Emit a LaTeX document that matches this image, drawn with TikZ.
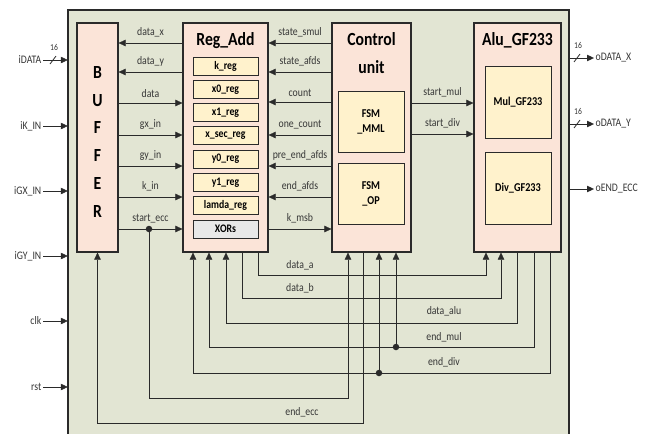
\documentclass[tikz,border=0pt]{standalone}
\usepackage{fontspec}
\setmainfont{Carlito}[FakeStretch=0.85]
\usetikzlibrary{arrows.meta,calc,positioning}
\definecolor{panel}{HTML}{E2E5D3}
\definecolor{blockfill}{HTML}{FBE4D8}
\definecolor{cellfill}{HTML}{FFF2CC}
\definecolor{xorfill}{HTML}{E8E8E8}
\definecolor{wire}{HTML}{2A2A2A}
\definecolor{muted}{HTML}{363636}
\tikzset{>={Triangle[length=7pt,width=6.5pt]},line width=1.1pt,
  every node/.style={font=\fontsize{11.5}{13}\selectfont},
  frame/.style={fill=panel,inner sep=0pt},
  blockbox/.style={draw=wire,fill=blockfill,line width=1.2pt,inner sep=0pt},
  cellbox/.style={draw=wire,fill=cellfill,line width=.9pt,inner sep=0pt,
    font=\bfseries\fontsize{11.5}{13}\selectfont},
  unitbox/.style={cellbox,align=center,font=\bfseries\fontsize{12}{15}\selectfont},
  sig/.style={draw=wire},
  lbl/.style={text=muted,inner sep=1.5pt},
  buswidth/.style={text=muted,inner sep=1pt,font=\fontsize{9}{10}\selectfont},
  title/.style={font=\bfseries\fontsize{18.5}{20}\selectfont},
  dot/.style={circle,fill=wire,inner sep=0pt,minimum size=6.5pt}}

\begin{document}
\begin{tikzpicture}[x=1pt,y=-1pt]
\useasboundingbox (0,0) rectangle (654,434);
% top level frame
\node[frame,minimum width=501pt,minimum height=424pt] (frm) at (318.5,222) {};
\draw[sig,line width=1.5pt] (frm.south west) |- (frm.north east) -- (frm.south east);

% blocks
\node[blockbox,minimum width=41pt,minimum height=229pt] (buf) at (97.5,137.5) {};
\foreach \l [count=\i] in {B,U,F,F,E,R}
  \node[title] (buf\i) at (97.5,{44.5+27.8*\i}) {\l};

\node[blockbox,minimum width=85pt,minimum height=229pt] (reg) at (225.5,137.5) {};
\node[title,anchor=base] (regname) at (225.5,45) {Reg\_Add};
\foreach \t [count=\i] in {k\_reg,x0\_reg,x1\_reg,x\_sec\_reg,y0\_reg,y1\_reg,lamda\_reg}
  \node[cellbox,minimum width=65pt,minimum height=18pt] (cell\i) at (225.5,{42.7+23.3*\i}) {\t};
\node[cellbox,fill=xorfill,minimum width=65pt,minimum height=18pt] (xors) at (225.5,229.1) {XORs};

\node[blockbox,minimum width=79pt,minimum height=229pt] (ctl) at (371.5,137.5) {};
\node[title,anchor=base] (ctlname) at (371.5,45) {Control};
\node[title,anchor=base] (ctlunit) at (371.5,73) {unit};
\node[unitbox,minimum width=66pt,minimum height=61pt] (fsmmml) at (371,121.5) {FSM\\\_MML};
\node[unitbox,minimum width=66pt,minimum height=61pt] (fsmop) at (371,193.5) {FSM\\\_OP};

\node[blockbox,minimum width=87pt,minimum height=229pt] (alu) at (517.5,137.5) {};
\node[title,anchor=base] (aluname) at (517.5,45) {Alu\_GF233};
\node[unitbox,minimum width=66pt,minimum height=72pt] (mul) at (518,102) {Mul\_GF233};
\node[unitbox,minimum width=66pt,minimum height=72pt] (div) at (518,188) {Div\_GF233};

% ports
\foreach \y/\t in {60/iDATA,126/iK\_IN,191/iGX\_IN,256/iGY\_IN,321/clk,387/rst}
  {\node[lbl,anchor=east] (in\y) at (43,\y) {\t};
   \draw[sig,->] (in\y) -- (frm.west |- in\y);}
\foreach \y/\t in {58/oDATA\_X,124/oDATA\_Y,189/oEND\_ECC}
  {\node[lbl,anchor=west] (out\y) at (594,\y) {\t};
   \draw[sig,->] (frm.east |- out\y) -- (out\y);}
\foreach \x/\y [count=\i] in {53/60,577/58,577/124}
  {\draw[sig,line width=.8pt] (\x-3,\y+4) -- (\x+3,\y-4);
   \node[buswidth] (bus\i) at (\x+1,\y-13) {16};}

% buffer <-> reg_add <-> control -> alu
\foreach \y/\t/\d in {43/data\_x/<-,72/data\_y/<-,103/data/->,135/gx\_in/->,
    166/gy\_in/->,197/k\_in/->,229/start\_ecc/->}
  \draw[sig,\d] (buf.east |- 0,\y) -- node[lbl,above=4pt] (b\y) {\t} (reg.west |- 0,\y);
\foreach \y/\t/\d in {43/state\_smul/<-,72/state\_afds/<-,102/count/<-,135/one\_count/<-,
    166/pre\_end\_afds/<-,197/end\_afds/<-,229/k\_msb/->}
  \draw[sig,\d] (reg.east |- 0,\y) -- node[lbl,above=4pt] (c\y) {\t} (ctl.west |- 0,\y);
\foreach \y/\t in {103/start\_mul,134/start\_div}
  \draw[sig,->] (ctl.east |- 0,\y) -- node[lbl,above=4pt] (a\y) {\t} (alu.west |- 0,\y);

% feedback wiring under the blocks
\node[dot] (jecc) at (149,229) {};
\draw[sig,->] (jecc) -- ++(0,169) -| (ctl.south -| 348,0);
\draw[sig,->] (ctl.south -| 363,0) -- ++(0,171) -| (buf.south);
\draw[sig,->] (reg.south -| 258,0) -- ++(0,23) -| (alu.south -| 486,0);
\draw[sig,->] (reg.south -| 242,0) -- ++(0,46) -| (alu.south -| 501,0);
\draw[sig,->] (alu.south -| 517,0) -- ++(0,71) -| (reg.south -| 226,0);
\draw[sig,->] (alu.south -| 534,0) -- ++(0,95) -| (reg.south -| 209,0);
\draw[sig,->] (alu.south -| 550,0) -- ++(0,121) -| (reg.south -| 193,0);
\node[dot] (jmul) at (396,347) {};
\draw[sig,->] (jmul) -- (ctl.south -| jmul);
\node[dot] (jdiv) at (379,373) {};
\draw[sig,->] (jdiv) -- (ctl.south -| jdiv);

\node[lbl] (lda) at (300,265) {data\_a};
\node[lbl] (ldb) at (300,288) {data\_b};
\node[lbl] (ldalu) at (444,311) {data\_alu};
\node[lbl] (lmul) at (444,337) {end\_mul};
\node[lbl] (ldiv) at (444,362) {end\_div};
\node[lbl] (lecc) at (302,412) {end\_ecc};
\end{tikzpicture}
\end{document}
